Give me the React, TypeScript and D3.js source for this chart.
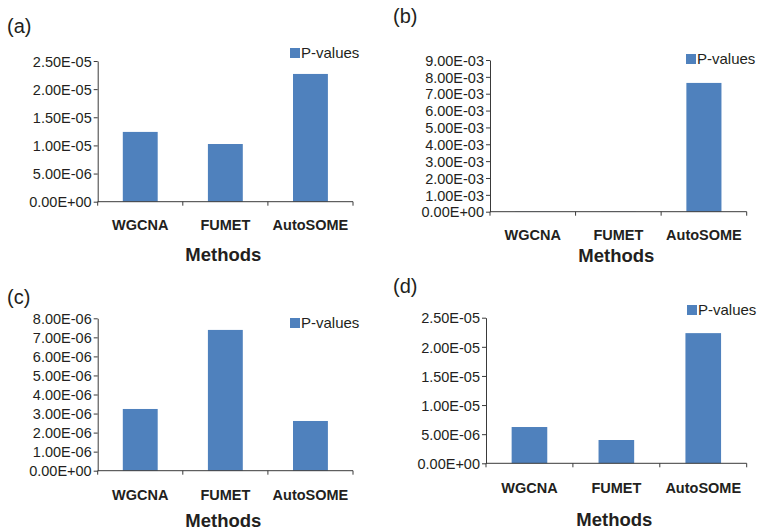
import React, { useEffect, useRef } from "react";
import * as d3 from "d3";

const methods = ["WGCNA", "FUMET", "AutoSOME"];

// p-values
const pValuesA = [1.24e-5, 1.025e-5, 2.27e-5];
const pValuesB = [1.2e-5, 1.0e-5, 7.64e-3];
const pValuesC = [3.24e-6, 7.39e-6, 2.61e-6];
const pValuesD = [6.23e-6, 4.0e-6, 2.235e-5];

const ticksA = [0, 5e-6, 1e-5, 1.5e-5, 2e-5, 2.5e-5];
const ticksB = [0, 1e-3, 2e-3, 3e-3, 4e-3, 5e-3, 6e-3, 7e-3, 8e-3, 9e-3];
const ticksC = [0, 1e-6, 2e-6, 3e-6, 4e-6, 5e-6, 6e-6, 7e-6, 8e-6];
const ticksD = [0, 5e-6, 1e-5, 1.5e-5, 2e-5, 2.5e-5];

const panelLabels = ["(a)", "(b)", "(c)", "(d)"];
const legendLabel = "P-values";
const xTitle = "Methods";

const BAR = "#4f81bd";
const INK = "#231f20";
const AXIS = "#3a3a3a";
const FONT = "'Liberation Sans', Arial, sans-serif";

// layout of each panel on the page
const panels = [
  { values: pValuesA, ticks: ticksA, x0: 97.7, x1: 353, yTop: 61, yZero: 201.7, labelX: 7, labelY: 33, legX: 290, legY: 48, catY: 230, titleY: 261 },
  { values: pValuesB, ticks: ticksB, x0: 490, x1: 746.7, yTop: 60, yZero: 211.7, labelX: 393, labelY: 23, legX: 686, legY: 54, catY: 240, titleY: 262 },
  { values: pValuesC, ticks: ticksC, x0: 97.7, x1: 353, yTop: 318.3, yZero: 470.7, labelX: 7, labelY: 304, legX: 290, legY: 318, catY: 500, titleY: 527 },
  { values: pValuesD, ticks: ticksD, x0: 486, x1: 746.7, yTop: 317.7, yZero: 463.3, labelX: 393, labelY: 293, legX: 687, legY: 305, catY: 493, titleY: 526 },
];

function fmtE(v: number) {
  if (v === 0) return "0.00E+00";
  let e = Math.floor(Math.log10(v));
  let m = v / Math.pow(10, e);
  if (m >= 9.995) {
    e += 1;
    m /= 10;
  }
  const sign = e < 0 ? "-" : "+";
  return m.toFixed(2) + "E" + sign + String(Math.abs(e)).padStart(2, "0");
}

const App = () => {
  const svgRef = useRef(null);

  useEffect(() => {
    const svg = d3.select(svgRef.current);
    svg.selectAll("*").remove();

    panels.forEach((p, i) => {
      const g = svg.append("g");
      const x = d3.scaleBand().domain(methods).range([p.x0, p.x1]).padding(0);
      const y = d3
        .scaleLinear()
        .domain([0, p.ticks[p.ticks.length - 1]])
        .range([p.yZero, p.yTop]);
      const barW = x.bandwidth() * 0.41;

      g.selectAll("rect.bar")
        .data(p.values)
        .enter()
        .append("rect")
        .attr("class", "bar")
        .attr("x", (d, j) => (x(methods[j]) as number) + (x.bandwidth() - barW) / 2)
        .attr("width", barW)
        .attr("y", (d) => y(d))
        .attr("height", (d) => p.yZero - y(d))
        .attr("fill", BAR);

      // y axis
      const yAxis = d3
        .axisLeft(y)
        .tickValues(p.ticks)
        .tickFormat((d) => fmtE(+d))
        .tickSizeInner(4)
        .tickSizeOuter(0)
        .tickPadding(2);
      const ya = g
        .append("g")
        .attr("transform", `translate(${p.x0},0)`)
        .call(yAxis)
        .attr("font-size", 14.5)
        .attr("font-family", FONT);
      ya.select(".domain").attr("stroke", AXIS);
      ya.selectAll(".tick line").attr("stroke", AXIS);
      ya.selectAll("text").attr("fill", INK).attr("dy", "0.36em");

      // x axis: ticks at category boundaries
      g.append("line")
        .attr("x1", p.x0)
        .attr("x2", p.x1)
        .attr("y1", p.yZero)
        .attr("y2", p.yZero)
        .attr("stroke", AXIS);
      const bounds = methods.map((m) => x(m) as number).concat([p.x1]);
      g.selectAll("line.xt")
        .data(bounds)
        .enter()
        .append("line")
        .attr("class", "xt")
        .attr("x1", (d) => d)
        .attr("x2", (d) => d)
        .attr("y1", p.yZero)
        .attr("y2", p.yZero + 4)
        .attr("stroke", AXIS);

      g.selectAll("text.cat")
        .data(methods)
        .enter()
        .append("text")
        .attr("class", "cat")
        .attr("x", (d) => (x(d) as number) + x.bandwidth() / 2)
        .attr("y", p.catY)
        .attr("text-anchor", "middle")
        .attr("fill", INK)
        .style("font-family", FONT)
        .style("font-weight", "bold")
        .style("font-size", "14.5px")
        .text((d) => d);

      g.append("text")
        .attr("x", (p.x0 + p.x1) / 2 - 2)
        .attr("y", p.titleY)
        .attr("text-anchor", "middle")
        .attr("fill", INK)
        .style("font-family", FONT)
        .style("font-weight", "bold")
        .style("font-size", "18.5px")
        .text(xTitle);

      // legend
      g.append("rect")
        .attr("x", p.legX)
        .attr("y", p.legY)
        .attr("width", 10)
        .attr("height", 10)
        .attr("fill", BAR);
      g.append("text")
        .attr("x", p.legX + 11)
        .attr("y", p.legY + 9.5)
        .attr("fill", INK)
        .style("font-family", FONT)
        .style("font-size", "15px")
        .text(legendLabel);

      g.append("text")
        .attr("x", p.labelX)
        .attr("y", p.labelY)
        .attr("fill", INK)
        .style("font-family", FONT)
        .style("font-size", "20px")
        .text(panelLabels[i]);
    });

    return () => {
      svg.selectAll("*").remove();
    };
  }, []);

  return (
    <svg
      ref={svgRef}
      width={757}
      height={531}
      style={{ position: "absolute", left: 0, top: 0, background: "#fff" }}
    />
  );
};

export default App;
